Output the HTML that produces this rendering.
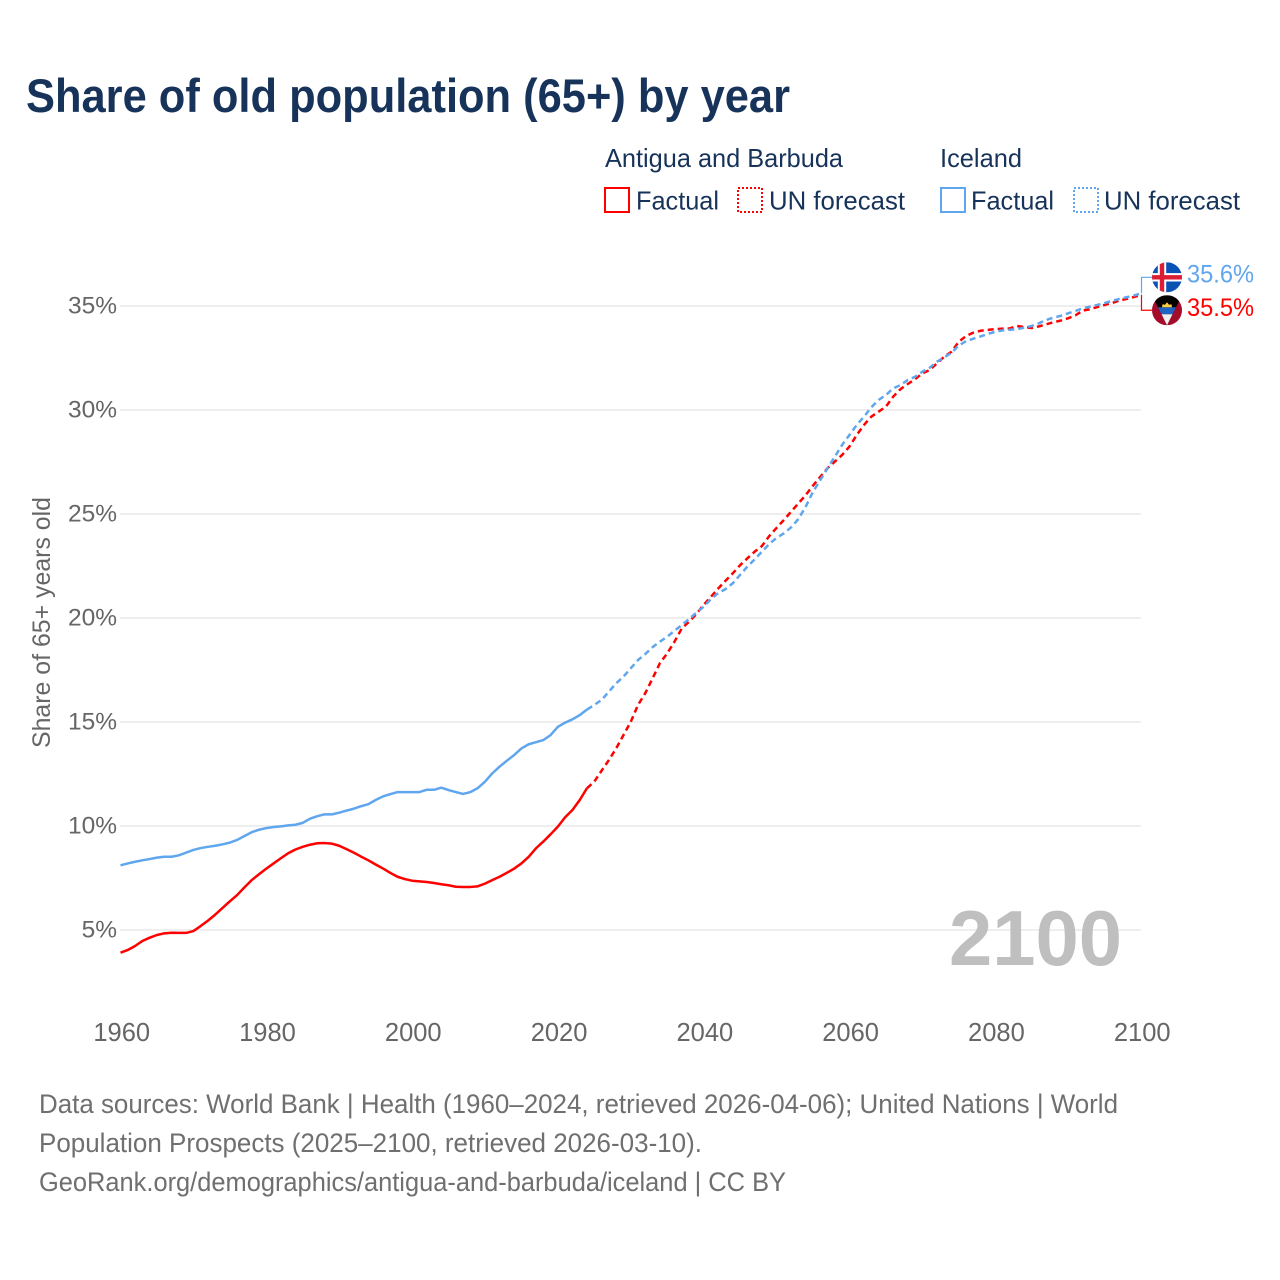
<!DOCTYPE html>
<html lang="en">
<head>
<meta charset="utf-8">
<title>Share of old population (65+) by year</title>
<style>
html,body{margin:0;padding:0;background:#fff;}
svg{display:block;}
text{font-family:"Liberation Sans",sans-serif;}
</style>
</head>
<body>
<svg id="chart" xmlns="http://www.w3.org/2000/svg" width="1280" height="1280" viewBox="0 0 1280 1280">
  <rect width="1280" height="1280" fill="#fff"/>
  <text x="26" y="112" font-size="47" font-weight="700" fill="#17335a" textLength="764" lengthAdjust="spacingAndGlyphs">Share of old population (65+) by year</text>

  <g font-size="26" fill="#17335a">
    <text x="605" y="167" textLength="238" lengthAdjust="spacingAndGlyphs">Antigua and Barbuda</text>
    <text x="940" y="167" textLength="82" lengthAdjust="spacingAndGlyphs">Iceland</text>
    <rect x="605" y="188" width="24" height="24" fill="none" stroke="#ff0000" stroke-width="2"/>
    <text x="636" y="209.5" textLength="83" lengthAdjust="spacingAndGlyphs">Factual</text>
    <rect x="738" y="188" width="24" height="24" fill="none" stroke="#ff0000" stroke-width="2" stroke-dasharray="2 2"/>
    <text x="769" y="209.5" textLength="136" lengthAdjust="spacingAndGlyphs">UN forecast</text>
    <rect x="941" y="188" width="24" height="24" fill="none" stroke="#5fa6ee" stroke-width="2"/>
    <text x="971" y="209.5" textLength="83" lengthAdjust="spacingAndGlyphs">Factual</text>
    <rect x="1074" y="188" width="24" height="24" fill="none" stroke="#5fa6ee" stroke-width="2" stroke-dasharray="2 2"/>
    <text x="1104" y="209.5" textLength="136" lengthAdjust="spacingAndGlyphs">UN forecast</text>
  </g>

  <text transform="translate(50,748) rotate(-90)" font-size="25" fill="#666" textLength="251" lengthAdjust="spacingAndGlyphs">Share of 65+ years old</text>

  <g id="grid"></g>
  <g id="y-ticks"></g>
  <g id="x-ticks"></g>

  <text x="949" y="965" font-size="78" font-weight="700" fill="#bfbfbf" textLength="173" lengthAdjust="spacingAndGlyphs">2100</text>

  <g id="series"></g>
  <g id="end-labels"></g>

  <defs>
    <clipPath id="flag-clip"><circle cx="0" cy="0" r="15"/></clipPath>
  </defs>

  <g id="flag-iceland">
    <g clip-path="url(#flag-clip)">
      <rect x="-15" y="-15" width="30" height="30" fill="#0a52b4"/>
      <rect x="-15" y="-4.2" width="30" height="8.4" fill="#fff"/>
      <rect x="-9.2" y="-15" width="8.4" height="30" fill="#fff"/>
      <rect x="-15" y="-2.2" width="30" height="4.4" fill="#dc1e35"/>
      <rect x="-7.2" y="-15" width="4.4" height="30" fill="#dc1e35"/>
    </g>
  </g>
  <g id="flag-antigua">
    <g clip-path="url(#flag-clip)">
      <rect x="-15" y="-15" width="30" height="30" fill="#a50b2b"/>
      <polygon points="-15,-15 15,-15 0,15" fill="#000"/>
      <polygon points="-9,-3 9,-3 5.5,4 -5.5,4" fill="#1f63c4"/>
      <polygon points="-5.5,4 5.5,4 0,15" fill="#f1f1f1"/>
      <polygon points="-5,-3 -4.5,-6 -2,-5.5 0,-8 2,-5.5 4.5,-6 5,-3" fill="#f7cf3c"/>
    </g>
  </g>

  <g font-size="26.5" fill="#6f6f6f">
    <text x="39" y="1113" textLength="1079" lengthAdjust="spacingAndGlyphs">Data sources: World Bank | Health (1960–2024, retrieved 2026-04-06); United Nations | World</text>
    <text x="39" y="1152" textLength="663" lengthAdjust="spacingAndGlyphs">Population Prospects (2025–2100, retrieved 2026-03-10).</text>
    <text x="39" y="1191" textLength="747" lengthAdjust="spacingAndGlyphs">GeoRank.org/demographics/antigua-and-barbuda/iceland | CC BY</text>
  </g>
</svg>

<script>
const factualStartYear = 1960;
const forecastStartYear = 2024;
const xTickYears = [1960, 1980, 2000, 2020, 2040, 2060, 2080, 2100];
const yTickValues = [5, 10, 15, 20, 25, 30, 35];

const antiguaFactual = [
  3.91,4.04,4.23,4.47,4.63,4.76,4.84,4.87,4.86,4.86,
  4.95,5.19,5.45,5.74,6.06,6.38,6.68,7.05,7.4,7.68,
  7.95,8.2,8.45,8.69,8.87,9.0,9.1,9.17,9.18,9.15,
  9.05,8.89,8.72,8.53,8.35,8.15,7.96,7.75,7.56,7.45,
  7.37,7.34,7.31,7.26,7.2,7.15,7.08,7.07,7.07,7.1,
  7.23,7.4,7.56,7.75,7.95,8.2,8.52,8.93,9.25,9.6,
  9.97,10.42,10.77,11.25,11.82
];
const icelandFactual = [
  8.11,8.2,8.28,8.35,8.41,8.48,8.52,8.52,8.59,8.72,
  8.85,8.94,9.0,9.05,9.12,9.2,9.33,9.52,9.7,9.82,
  9.9,9.95,9.98,10.03,10.06,10.15,10.35,10.47,10.56,10.56,
  10.64,10.74,10.83,10.95,11.05,11.25,11.42,11.53,11.63,11.63,
  11.63,11.63,11.74,11.74,11.84,11.73,11.63,11.54,11.63,11.82,
  12.13,12.53,12.85,13.14,13.41,13.73,13.93,14.03,14.13,14.37,
  14.77,14.97,15.13,15.33,15.6
];
const antiguaForecast = [
  11.82,12.13,12.66,13.17,13.73,14.37,15.01,15.82,16.39,17.1,
  17.83,18.3,18.86,19.5,19.82,20.19,20.63,21.02,21.42,21.79,
  22.15,22.54,22.87,23.19,23.46,23.94,24.33,24.71,25.11,25.51,
  25.91,26.36,26.79,27.2,27.52,27.84,28.24,28.8,29.28,29.68,
  29.92,30.16,30.64,31,31.25,31.48,31.76,31.92,32.24,32.56,
  32.8,33.28,33.56,33.72,33.81,33.85,33.89,33.91,33.92,34.04,
  33.99,33.94,34.02,34.12,34.22,34.3,34.41,34.55,34.78,34.84,
  34.95,35.05,35.14,35.26,35.34,35.43,35.54
];
const icelandForecast = [
  15.6,15.82,16.06,16.46,16.86,17.18,17.58,17.98,18.27,18.6,
  18.86,19.1,19.39,19.66,19.95,20.25,20.54,20.91,21.2,21.39,
  21.67,22.07,22.47,22.82,23.19,23.56,23.85,24.07,24.36,24.76,
  25.35,26.07,26.63,27.2,27.76,28.32,28.8,29.28,29.68,30.13,
  30.48,30.72,31.04,31.2,31.44,31.6,31.84,32.03,32.32,32.53,
  32.75,33.1,33.31,33.43,33.54,33.66,33.76,33.83,33.86,33.89,
  33.96,34.04,34.17,34.33,34.44,34.53,34.65,34.76,34.89,34.97,
  35.05,35.14,35.24,35.34,35.42,35.5,35.61
];

const NS = 'http://www.w3.org/2000/svg';
const RED = '#ff0000';
const BLUE = '#5fa6ee';
const LINE_WIDTH = 2.5;

function xScale(year) { return 120.5 + (year - 1960) * (1141 - 120.5) / 140; }
function yScale(value) { return 930 - (value - 5) * 20.8; }

function make(tag, attrs, parent) {
  const el = document.createElementNS(NS, tag);
  for (const k in attrs) el.setAttribute(k, attrs[k]);
  parent.appendChild(el);
  return el;
}

const gridGroup = document.getElementById('grid');
const yTickGroup = document.getElementById('y-ticks');
yTickValues.forEach(function (v) {
  const line = make('line', { x1: 120, x2: 1141, y1: yScale(v), y2: yScale(v), stroke: '#eeeeee', 'stroke-width': 2 }, gridGroup);
  
  
  const label = make('text', { x: 117, y: yScale(v) + 7.5, 'text-anchor': 'end', 'font-size': 24.5, fill: '#666' }, yTickGroup);
  
  
  label.textContent = v + '%';
});

const xTickGroup = document.getElementById('x-ticks');
xTickYears.forEach(function (yr) {
  const label = make('text', { x: xScale(yr) + 1.2, y: 1041, 'text-anchor': 'middle', 'font-size': 25.5, fill: '#666' }, xTickGroup);
  
  
  label.textContent = yr;
});

function linePath(values, startYear) {
  return values.map(function (v, i) {
    return (i ? 'L' : 'M') + xScale(startYear + i).toFixed(2) + ' ' + yScale(v).toFixed(2);
  }).join('');
}

const seriesGroup = document.getElementById('series');

const antiguaFactualLine = make('path', { d: linePath(antiguaFactual, factualStartYear), fill: 'none', stroke: RED, 'stroke-width': LINE_WIDTH, 'stroke-linejoin': 'round' }, seriesGroup);



const icelandFactualLine = make('path', { d: linePath(icelandFactual, factualStartYear), fill: 'none', stroke: BLUE, 'stroke-width': LINE_WIDTH, 'stroke-linejoin': 'round' }, seriesGroup);



const antiguaForecastLine = make('path', { d: linePath(antiguaForecast, forecastStartYear), fill: 'none', stroke: RED, 'stroke-width': LINE_WIDTH, 'stroke-dasharray': '6 4', 'stroke-linejoin': 'round' }, seriesGroup);



const icelandForecastLine = make('path', { d: linePath(icelandForecast, forecastStartYear), fill: 'none', stroke: BLUE, 'stroke-width': LINE_WIDTH, 'stroke-dasharray': '6 4', 'stroke-linejoin': 'round' }, seriesGroup);



const icelandLast = icelandForecast[icelandForecast.length - 1];
const antiguaLast = antiguaForecast[antiguaForecast.length - 1];
const icelandEndY = yScale(icelandLast);
const antiguaEndY = yScale(antiguaLast);
const icelandLabelY = icelandEndY - 16;
const antiguaLabelY = antiguaEndY + 15.5;

const labelGroup = document.getElementById('end-labels');

const icelandConnector = make('path', { d: 'M1141.5 ' + icelandEndY + 'V' + icelandLabelY + 'H1152', fill: 'none', stroke: BLUE, 'stroke-width': 1.2 }, labelGroup);



const antiguaConnector = make('path', { d: 'M1141.5 ' + antiguaEndY + 'V' + antiguaLabelY + 'H1152', fill: 'none', stroke: RED, 'stroke-width': 1.2 }, labelGroup);



const icelandValue = make('text', { x: 1187, y: icelandLabelY + 5, 'font-size': 25, fill: BLUE, textLength: 67, lengthAdjust: 'spacingAndGlyphs' }, labelGroup);


icelandValue.textContent = icelandLast.toFixed(1) + '%';

const antiguaValue = make('text', { x: 1187, y: antiguaLabelY + 5.5, 'font-size': 25, fill: RED, textLength: 67, lengthAdjust: 'spacingAndGlyphs' }, labelGroup);


antiguaValue.textContent = antiguaLast.toFixed(1) + '%';

document.getElementById('flag-iceland').setAttribute('transform', 'translate(1167,' + icelandLabelY + ')');
document.getElementById('flag-antigua').setAttribute('transform', 'translate(1167,' + antiguaLabelY + ')');
</script>
</body>
</html>
